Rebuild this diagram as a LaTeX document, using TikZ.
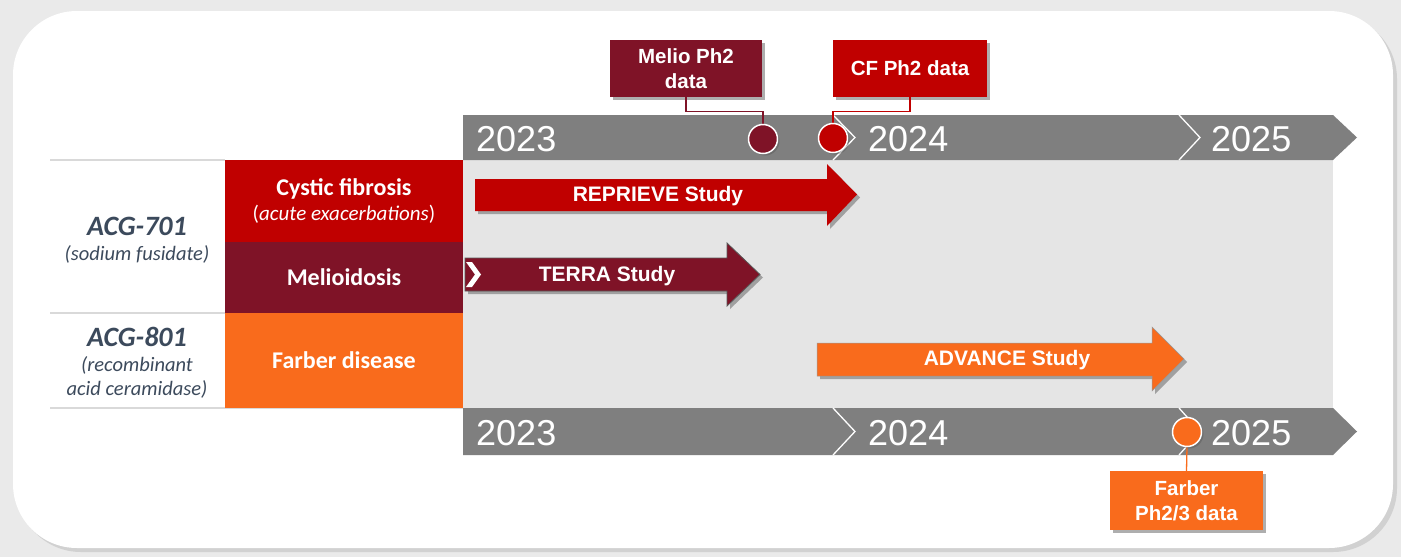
\documentclass[tikz,border=0pt]{standalone}
\usepackage{fontspec}
\setmainfont{Liberation Sans}
\newfontfamily\tablefont{Carlito}
\usetikzlibrary{shadows}

\definecolor{cfred}{HTML}{C00000}
\definecolor{meliored}{HTML}{7F1327}
\definecolor{farberorange}{HTML}{F96B1C}
\definecolor{bargray}{HTML}{7F7F7F}
\definecolor{bandgray}{HTML}{E5E5E5}
\definecolor{slate}{HTML}{3C4A5C}
\definecolor{rulegray}{HTML}{D9D9D9}
\definecolor{pagegray}{HTML}{EAEAEA}

\begin{document}
\begin{tikzpicture}[x=1pt,y=-1pt,
  softshadow/.style={drop shadow={shadow xshift=3pt,shadow yshift=-3pt,opacity=.45,fill=black!70}},
  milebox/.style={rectangle,inner sep=0pt,text=white,align=center,
    font=\bfseries\fontsize{20.5}{25}\selectfont,softshadow},
  miledot/.style={circle,inner sep=0pt,minimum size=29pt,draw=white,line width=1.5pt,
    drop shadow={shadow xshift=2pt,shadow yshift=-2pt,opacity=.35,fill=black!70}},
  yearlabel/.style={anchor=west,inner sep=0pt,text=white,font=\fontsize{36}{40}\selectfont},
  studylabel/.style={inner sep=0pt,text=white,font=\bfseries\fontsize{21}{24}\selectfont},
  indication/.style={rectangle,inner sep=0pt,text=white,align=center,
    font=\tablefont\bfseries\fontsize{24}{27}\selectfont},
  drugname/.style={inner sep=0pt,text=slate,font=\tablefont\bfseries\itshape\fontsize{28}{32}\selectfont},
  drugsub/.style={inner sep=0pt,text=slate,font=\tablefont\itshape\fontsize{20.5}{24}\selectfont},
  tablerule/.style={draw=rulegray,line width=1.8pt},
  chevronline/.style={draw=white,line width=1.3pt},
  leader/.style={line width=1.3pt}
]
\useasboundingbox (0,0) rectangle (1401,557);

% page and rounded panel
\fill[pagegray] (0,0) rectangle (1401,557);
\fill[black!18,rounded corners=64pt] (17,15) rectangle (1397,552);
\fill[white,rounded corners=64pt] (13,11) rectangle (1393,548);

% timeline band between the two year bars
\fill[bandgray] (463,160) rectangle (1333,408);

% top year bar
\fill[bargray] (463,115) -- (1333,115) -- (1357,137.5) -- (1333,160) -- (463,160) -- cycle;
\draw[chevronline] (833,115) -- (855,137.5) -- (833,160);
\draw[chevronline] (1179,115) -- (1200,137.5) -- (1179,160);
\node[yearlabel] (t2023) at (476,139) {2023};
\node[yearlabel] (t2024) at (868,139) {2024};
\node[yearlabel] (t2025) at (1211,139) {2025};

% bottom year bar
\fill[bargray] (463,408) -- (1333,408) -- (1357,431.5) -- (1333,455) -- (463,455) -- cycle;
\draw[chevronline] (833,408) -- (855,431.5) -- (833,455);
\draw[chevronline] (1179,408) -- (1200,431.5) -- (1179,455);
\node[yearlabel] (b2023) at (476,433) {2023};
\node[yearlabel] (b2024) at (868,433) {2024};
\node[yearlabel] (b2025) at (1211,433) {2025};

% left table rules
\draw[tablerule] (50,160) -- (225,160);
\draw[tablerule] (50,313) -- (225,313);
\draw[tablerule] (50,408) -- (463,408);

% indication cells
\node[indication,fill=cfred,minimum width=238pt,minimum height=82pt] (cf) at (344,201)
  {Cystic fibrosis\\[-2pt]{\mdseries\fontsize{21}{25}\selectfont(\textit{acute exacerbations})}};
\node[indication,fill=meliored,minimum width=238pt,minimum height=71pt] (melio) at (344,277.5) {Melioidosis};
\node[indication,fill=farberorange,minimum width=238pt,minimum height=95pt] (farber) at (344,360.5) {Farber disease};

% drug names
\node[drugname] (acg701) at (137,226) {ACG-701};
\node[drugsub] (acg701sub) at (137,254) {(sodium fusidate)};
\node[drugname] (acg801) at (137,337) {ACG-801};
\node[drugsub] (acg801sub) at (137,365) {(recombinant};
\node[drugsub] (acg801sub2) at (137,389) {acid ceramidase)};

% study arrows
\fill[cfred,softshadow] (475,179) -- (827,179) -- (827,164) -- (857,194.5) -- (827,226)
  -- (827,211) -- (475,211) -- cycle;
\node[studylabel] (reprieve) at (658,196) {REPRIEVE Study};

\filldraw[fill=meliored,draw=black!65,line width=0.8pt,softshadow] (465,258) -- (727,258) -- (727,243)
  -- (760,274.5) -- (727,306) -- (727,291) -- (465,291) -- cycle;
\fill[white] (466,262) -- (472,262) -- (481,274.5) -- (472,287) -- (466,287) -- (475,274.5) -- cycle;
\node[studylabel] (terra) at (607,276) {TERRA Study};

\filldraw[fill=farberorange,draw=black!40,line width=0.5pt,softshadow] (817,343) -- (1152,343) -- (1152,327)
  -- (1184,359) -- (1152,391) -- (1152,376) -- (817,376) -- cycle;
\node[studylabel] (advance) at (1007,360) {ADVANCE Study};

% milestones
\node[milebox,fill=meliored,minimum width=152pt,minimum height=57pt] (meliobox) at (686,68.5)
  {Melio Ph2\\data};
\node[milebox,fill=cfred,minimum width=154pt,minimum height=57pt] (cfbox) at (910,68.5)
  {CF Ph2 data};
\node[milebox,fill=farberorange,minimum width=153pt,minimum height=59pt] (farberbox) at (1186.5,500.5)
  {Farber\\Ph2/3 data};

\draw[leader,meliored] (meliobox.south) -- ++(0,14) coordinate (meliobend) -| (763,124.5);
\draw[leader,cfred] (cfbox.south) -- ++(0,14) coordinate (cfbend) -| (833,123.5);
\draw[leader,farberorange] (1187,446.5) -- (farberbox.north);

\node[miledot,fill=meliored] (meliodot) at (763,139) {};
\node[miledot,fill=cfred] (cfdot) at (833,138) {};
\node[miledot,fill=farberorange] (farberdot) at (1187,432) {};
\end{tikzpicture}
\end{document}
